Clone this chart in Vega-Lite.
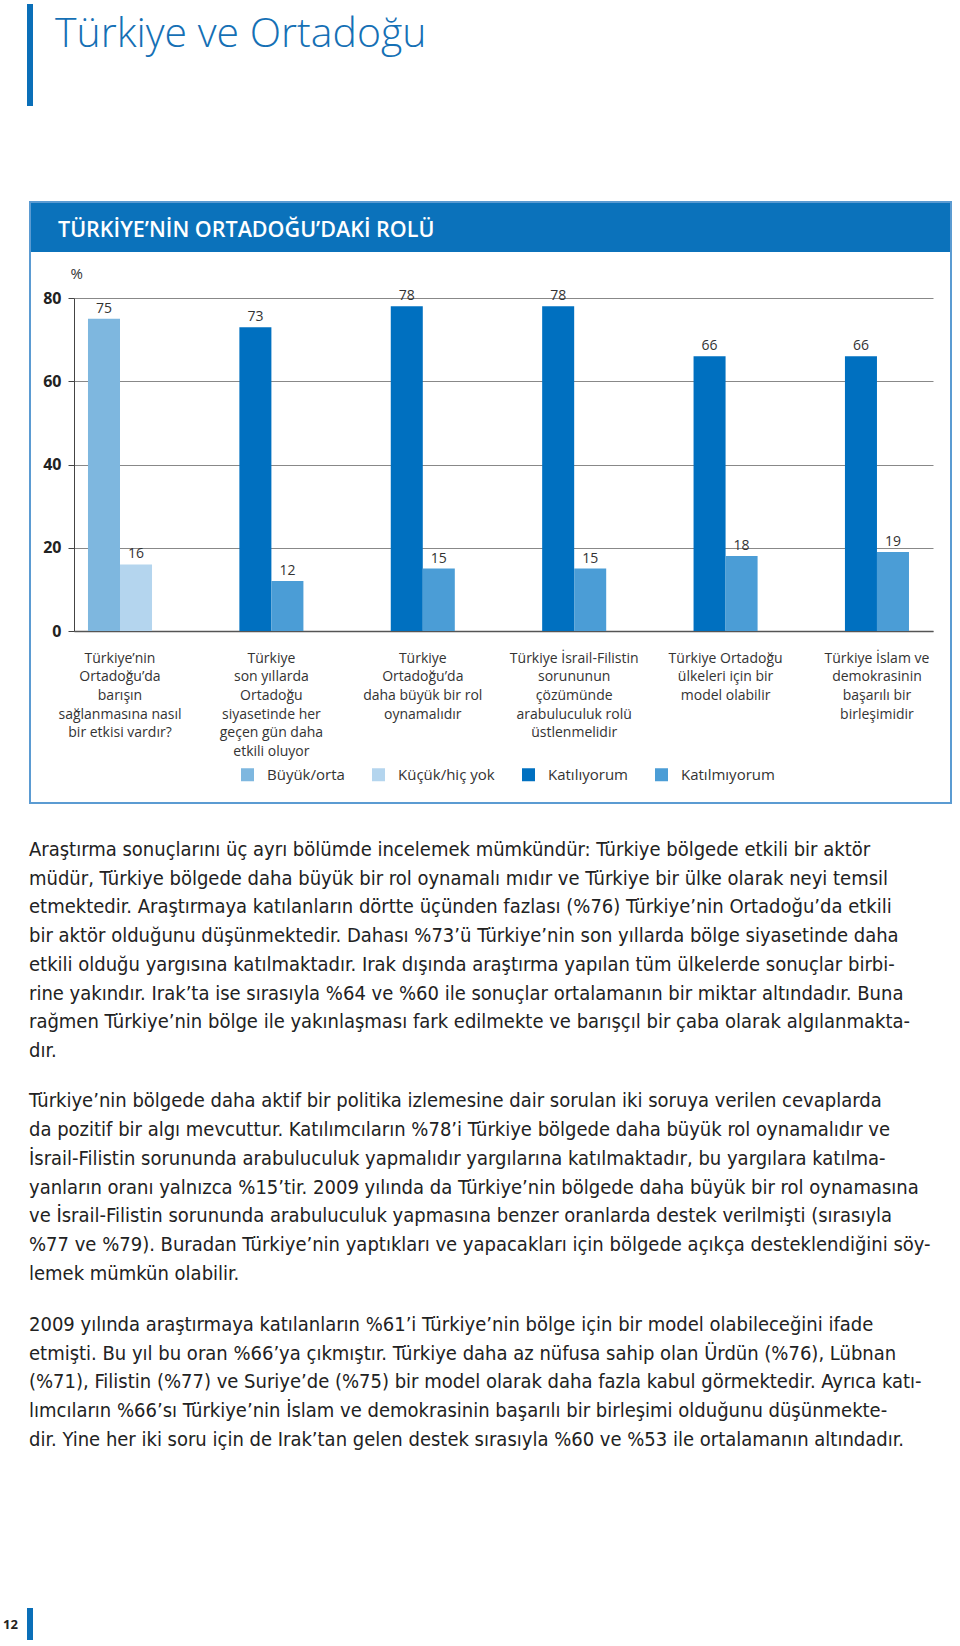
{
  "$schema": "https://vega.github.io/schema/vega-lite/v6.json",
  "background": "white",
  "padding": {"left": 3, "top": 4, "right": 0, "bottom": 0},
  "bounds": "flush",
  "spacing": 204.6,
  "config": {"view": {"stroke": null}, "font": "Open Sans"},
  "datasets": {
    "bars": [
      {"q": "Türkiye’nin|Ortadoğu’da|barışın|sağlanmasına nasıl|bir etkisi vardır?", "resp": "Büyük/orta", "slot": "a", "value": 75},
      {"q": "Türkiye’nin|Ortadoğu’da|barışın|sağlanmasına nasıl|bir etkisi vardır?", "resp": "Küçük/hiç yok", "slot": "b", "value": 16},
      {"q": "Türkiye|son yıllarda|Ortadoğu|siyasetinde her|geçen gün daha|etkili oluyor", "resp": "Katılıyorum", "slot": "a", "value": 73},
      {"q": "Türkiye|son yıllarda|Ortadoğu|siyasetinde her|geçen gün daha|etkili oluyor", "resp": "Katılmıyorum", "slot": "b", "value": 12},
      {"q": "Türkiye|Ortadoğu’da|daha büyük bir rol|oynamalıdır", "resp": "Katılıyorum", "slot": "a", "value": 78},
      {"q": "Türkiye|Ortadoğu’da|daha büyük bir rol|oynamalıdır", "resp": "Katılmıyorum", "slot": "b", "value": 15},
      {"q": "Türkiye İsrail-Filistin|sorununun|çözümünde|arabuluculuk rolü|üstlenmelidir", "resp": "Katılıyorum", "slot": "a", "value": 78},
      {"q": "Türkiye İsrail-Filistin|sorununun|çözümünde|arabuluculuk rolü|üstlenmelidir", "resp": "Katılmıyorum", "slot": "b", "value": 15},
      {"q": "Türkiye Ortadoğu|ülkeleri için bir|model olabilir", "resp": "Katılıyorum", "slot": "a", "value": 66},
      {"q": "Türkiye Ortadoğu|ülkeleri için bir|model olabilir", "resp": "Katılmıyorum", "slot": "b", "value": 18},
      {"q": "Türkiye İslam ve|demokrasinin|başarılı bir|birleşimidir", "resp": "Katılıyorum", "slot": "a", "value": 66},
      {"q": "Türkiye İslam ve|demokrasinin|başarılı bir|birleşimidir", "resp": "Katılmıyorum", "slot": "b", "value": 19}
    ]
  },
  "vconcat": [
    {
      "width": 859,
      "height": 333,
      "layer": [
        {
          "data": {"values": [{"t": "TÜRKİYE’NİN ORTADOĞU’DAKİ ROLÜ"}]},
          "mark": {"type": "rect", "fill": "#0b72bb"},
          "encoding": {"x": {"value": -45}, "x2": {"value": 878}, "y": {"value": -97}, "y2": {"value": -46}}
        },
        {
          "data": {"values": [{"t": "frame"}]},
          "mark": {"type": "rect", "fill": "white", "fillOpacity": 0, "stroke": "#5b9bd2", "strokeWidth": 2},
          "encoding": {"x": {"value": -44}, "x2": {"value": 877}, "y": {"value": -96}, "y2": {"value": 505}}
        },
        {
          "data": {"values": [{"t": "TÜRKİYE’NİN ORTADOĞU’DAKİ ROLÜ"}]},
          "mark": {"type": "text", "align": "left", "baseline": "middle", "fontSize": 21.5, "fontWeight": 600, "color": "white"},
          "encoding": {"text": {"field": "t"}, "x": {"value": -16}, "y": {"value": -67}}
        },
        {
          "data": {"values": [{"t": "Türkiye ve Ortadoğu"}]},
          "mark": {"type": "rect", "fill": "#0a6fb8"},
          "encoding": {"x": {"value": -47}, "x2": {"value": -41}, "y": {"value": -294}, "y2": {"value": -192}}
        },
        {
          "data": {"values": [{"t": "Türkiye ve Ortadoğu"}]},
          "mark": {"type": "text", "align": "left", "baseline": "alphabetic", "fontSize": 41, "fontWeight": 300, "color": "#1570b5"},
          "encoding": {"text": {"field": "t"}, "x": {"value": -19}, "y": {"value": -251}}
        },
        {
          "data": {"values": [{"t": "12"}]},
          "mark": {"type": "rect", "fill": "#0a6fb8"},
          "encoding": {"x": {"value": -47}, "x2": {"value": -41}, "y": {"value": 1310}, "y2": {"value": 1342}}
        },
        {
          "data": {"values": [{"t": "12"}]},
          "mark": {"type": "text", "align": "left", "baseline": "middle", "fontSize": 13, "fontWeight": "bold", "color": "#222"},
          "encoding": {"text": {"field": "t"}, "x": {"value": -71}, "y": {"value": 1327}}
        },
        {
          "data": {"name": "bars"},
          "mark": {"type": "bar"},
          "encoding": {
            "x": {
              "field": "q", "type": "nominal", "sort": null,
              "scale": {"paddingInner": 0.577, "paddingOuter": 0.1255, "align": 0.368},
              "axis": {"title": null, "labelExpr": "split(datum.label, '|')", "labelAngle": 0, "labelFontSize": 14, "labelColor": "#333", "labelLineHeight": 18.7, "labelPadding": 20, "ticks": false, "domainColor": "#555", "domainWidth": 1.5, "labelLimit": 220}
            },
            "xOffset": {"field": "slot", "type": "nominal", "scale": {"paddingInner": 0, "paddingOuter": 0}},
            "y": {
              "field": "value", "type": "quantitative",
              "scale": {"domain": [0, 80], "nice": false},
              "axis": {"values": [0, 20, 40, 60, 80], "title": "%", "titleAngle": 0, "titleX": -4, "titleY": -20, "titleAlign": "left", "titleBaseline": "alphabetic", "titleFontSize": 15, "titleFontWeight": "normal", "titleColor": "#333", "labelFontSize": 16, "labelFontWeight": "bold", "labelColor": "#222", "labelPadding": 7, "tickSize": 6, "tickColor": "#444", "domainColor": "#444", "gridColor": "#888", "grid": true}
            },
            "color": {
              "field": "resp", "type": "nominal",
              "scale": {"domain": ["Büyük/orta", "Küçük/hiç yok", "Katılıyorum", "Katılmıyorum"], "range": ["#7eb7df", "#b4d5ee", "#0070c0", "#4b9dd6"]},
              "legend": {"orient": "none", "legendX": 166, "legendY": 469, "direction": "horizontal", "title": null, "symbolType": "square", "symbolSize": 169, "symbolStrokeWidth": 0, "symbolOpacity": 1, "labelFontSize": 15, "labelColor": "#333", "labelOffset": 12, "columnPadding": 26}
            }
          }
        },
        {
          "data": {"name": "bars"},
          "mark": {"type": "text", "baseline": "bottom", "dy": -3, "fontSize": 14, "color": "#333"},
          "encoding": {
            "x": {"field": "q", "type": "nominal", "sort": null},
            "xOffset": {"field": "slot", "type": "nominal"},
            "y": {"field": "value", "type": "quantitative"},
            "text": {"field": "value"}
          }
        }
      ]
    },
    {
      "bounds": "flush",
      "spacing": 21.5,
      "vconcat": [
        {
          "width": 859, "height": 230,
          "data": {"values": [
            {"n": 1, "t": "Araştırma sonuçlarını üç ayrı bölümde incelemek mümkündür: Türkiye bölgede etkili bir aktör"},
            {"n": 2, "t": "müdür, Türkiye bölgede daha büyük bir rol oynamalı mıdır ve Türkiye bir ülke olarak neyi temsil"},
            {"n": 3, "t": "etmektedir. Araştırmaya katılanların dörtte üçünden fazlası (%76) Türkiye’nin Ortadoğu’da etkili"},
            {"n": 4, "t": "bir aktör olduğunu düşünmektedir. Dahası %73’ü Türkiye’nin son yıllarda bölge siyasetinde daha"},
            {"n": 5, "t": "etkili olduğu yargısına katılmaktadır. Irak dışında araştırma yapılan tüm ülkelerde sonuçlar birbi-"},
            {"n": 6, "t": "rine yakındır. Irak’ta ise sırasıyla %64 ve %60 ile sonuçlar ortalamanın bir miktar altındadır. Buna"},
            {"n": 7, "t": "rağmen Türkiye’nin bölge ile yakınlaşması fark edilmekte ve barışçıl bir çaba olarak algılanmakta-"},
            {"n": 8, "t": "dır."}
          ]},
          "mark": {"type": "text", "align": "left", "baseline": "middle", "font": "DejaVu Sans Condensed", "fontSize": 20, "color": "#222"},
          "encoding": {
            "y": {"field": "n", "type": "ordinal", "axis": null, "scale": {"type": "point", "padding": 0.5}},
            "x": {"value": -45},
            "text": {"field": "t"}
          }
        },
        {
          "width": 859, "height": 201.25,
          "data": {"values": [
            {"n": 1, "t": "Türkiye’nin bölgede daha aktif bir politika izlemesine dair sorulan iki soruya verilen cevaplarda"},
            {"n": 2, "t": "da pozitif bir algı mevcuttur. Katılımcıların %78’i Türkiye bölgede daha büyük rol oynamalıdır ve"},
            {"n": 3, "t": "İsrail-Filistin sorununda arabuluculuk yapmalıdır yargılarına katılmaktadır, bu yargılara katılma-"},
            {"n": 4, "t": "yanların oranı yalnızca %15’tir. 2009 yılında da Türkiye’nin bölgede daha büyük bir rol oynamasına"},
            {"n": 5, "t": "ve İsrail-Filistin sorununda arabuluculuk yapmasına benzer oranlarda destek verilmişti (sırasıyla"},
            {"n": 6, "t": "%77 ve %79). Buradan Türkiye’nin yaptıkları ve yapacakları için bölgede açıkça desteklendiğini söy-"},
            {"n": 7, "t": "lemek mümkün olabilir."}
          ]},
          "mark": {"type": "text", "align": "left", "baseline": "middle", "font": "DejaVu Sans Condensed", "fontSize": 20, "color": "#222"},
          "encoding": {
            "y": {"field": "n", "type": "ordinal", "axis": null, "scale": {"type": "point", "padding": 0.5}},
            "x": {"value": -45},
            "text": {"field": "t"}
          }
        },
        {
          "width": 859, "height": 143.75,
          "data": {"values": [
            {"n": 1, "t": "2009 yılında araştırmaya katılanların %61’i Türkiye’nin bölge için bir model olabileceğini ifade"},
            {"n": 2, "t": "etmişti. Bu yıl bu oran %66’ya çıkmıştır. Türkiye daha az nüfusa sahip olan Ürdün (%76), Lübnan"},
            {"n": 3, "t": "(%71), Filistin (%77) ve Suriye’de (%75) bir model olarak daha fazla kabul görmektedir. Ayrıca katı-"},
            {"n": 4, "t": "lımcıların %66’sı Türkiye’nin İslam ve demokrasinin başarılı bir birleşimi olduğunu düşünmekte-"},
            {"n": 5, "t": "dir. Yine her iki soru için de Irak’tan gelen destek sırasıyla %60 ve %53 ile ortalamanın altındadır."}
          ]},
          "mark": {"type": "text", "align": "left", "baseline": "middle", "font": "DejaVu Sans Condensed", "fontSize": 20, "color": "#222"},
          "encoding": {
            "y": {"field": "n", "type": "ordinal", "axis": null, "scale": {"type": "point", "padding": 0.5}},
            "x": {"value": -45},
            "text": {"field": "t"}
          }
        }
      ]
    }
  ]
}
